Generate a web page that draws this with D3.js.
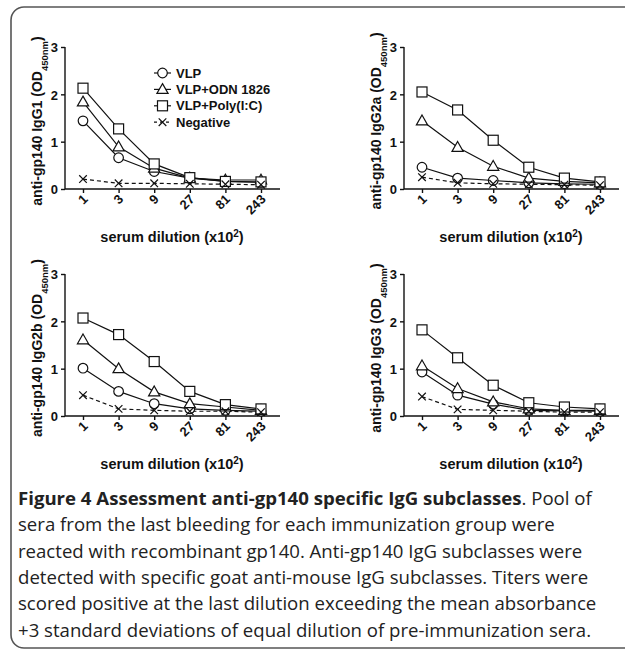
<!DOCTYPE html>
<html lang="en">
<head>
	<meta charset="UTF-8">
	<script src="https://d3js.org/d3.v7.min.js"></script>
	<title>Figure 4</title>
	<style>
		body { margin: 0; background: white; }
		svg { display: block; }
		.tick-lbl, .ax-title, .leg { font-family: "Liberation Sans", Arial, sans-serif; font-weight: bold; fill: #111; }
		.caption { font-family: "Open Sans", sans-serif; fill: #222; }
	</style>
</head>
<body>
	<div id="chart"></div>
	<script>
		// ---------------- data ----------------
		const dilutions = ["1", "3", "9", "27", "81", "243"];
		const yTicks = [0, 1, 2, 3];
		const groups = ["VLP", "VLP+ODN 1826", "VLP+Poly(I:C)", "Negative"];
		const symbols = ["circle", "triangle", "square", "cross"];

		const igg1 = [
			[1.44, 0.66, 0.37, 0.23, 0.16, 0.14],
			[1.84, 0.89, 0.44, 0.23, 0.19, 0.19],
			[2.13, 1.27, 0.53, 0.24, 0.16, 0.15],
			[0.21, 0.12, 0.12, 0.11, 0.10, 0.09]
		];
		const igg2a = [
			[0.46, 0.23, 0.18, 0.13, 0.11, 0.10],
			[1.44, 0.88, 0.48, 0.23, 0.16, 0.13],
			[2.05, 1.67, 1.03, 0.46, 0.23, 0.15],
			[0.25, 0.13, 0.11, 0.10, 0.09, 0.08]
		];
		const igg2b = [
			[1.01, 0.52, 0.26, 0.15, 0.12, 0.10],
			[1.61, 1.00, 0.51, 0.26, 0.19, 0.12],
			[2.07, 1.72, 1.15, 0.52, 0.24, 0.15],
			[0.44, 0.15, 0.12, 0.10, 0.10, 0.08]
		];
		const igg3 = [
			[0.93, 0.44, 0.25, 0.12, 0.11, 0.10],
			[1.06, 0.58, 0.30, 0.15, 0.12, 0.12],
			[1.82, 1.23, 0.65, 0.28, 0.19, 0.15],
			[0.41, 0.14, 0.12, 0.10, 0.08, 0.08]
		];

		const panels = [
			{ name: "IgG1", values: igg1, x: 65, y: 189, legend: true },
			{ name: "IgG2a", values: igg2a, x: 404, y: 189, legend: false },
			{ name: "IgG2b", values: igg2b, x: 65, y: 416, legend: false },
			{ name: "IgG3", values: igg3, x: 404, y: 416, legend: false }
		];

		const captionLines = [
			[["Figure 4 Assessment anti-gp140 specific IgG subclasses", true], [". Pool of", false]],
			[["sera from the last bleeding for each immunization group were", false]],
			[["reacted with recombinant gp140. Anti-gp140 IgG subclasses were", false]],
			[["detected with specific goat anti-mouse IgG subclasses. Titers were", false]],
			[["scored positive at the last dilution exceeding the mean absorbance", false]],
			[["+3 standard deviations of equal dilution of pre-immunization sera.", false]]
		];

		// ---------------- svg ----------------
		const W = 625, H = 651;
		const svg = d3.select("#chart").append("svg")
			.attr("width", W)
			.attr("height", H);

		// frame with rounded corners (right side runs off the picture)
		svg.append("rect")
			.attr("x", 11).attr("y", 7)
			.attr("width", 640).attr("height", 641)
			.attr("rx", 13)
			.attr("fill", "none")
			.attr("stroke", "#555")
			.attr("stroke-width", 1.6);

		const x = d3.scalePoint().domain(dilutions).range([18, 196]);
		const y = d3.scaleLinear().domain([0, 3]).range([0, -142]);

		function drawMarker(g, type, cx, cy) {
			if (type === "circle") {
				g.append("circle").attr("cx", cx).attr("cy", cy).attr("r", 4.8)
					.attr("fill", "white").attr("stroke", "#111").attr("stroke-width", 1.2);
			} else if (type === "triangle") {
				g.append("path")
					.attr("d", `M${cx},${cy - 5.8}L${cx + 5.6},${cy + 4}L${cx - 5.6},${cy + 4}Z`)
					.attr("fill", "white").attr("stroke", "#111").attr("stroke-width", 1.2);
			} else if (type === "square") {
				g.append("rect").attr("x", cx - 5).attr("y", cy - 5).attr("width", 10).attr("height", 10)
					.attr("fill", "white").attr("stroke", "#111").attr("stroke-width", 1.2);
			} else {
				g.append("path")
					.attr("d", `M${cx - 3.8},${cy - 3.8}L${cx + 3.8},${cy + 3.8}M${cx - 3.8},${cy + 3.8}L${cx + 3.8},${cy - 3.8}`)
					.attr("stroke", "#111").attr("stroke-width", 1.2);
			}
		}

		panels.forEach(p => {
			const g = svg.append("g").attr("transform", `translate(${p.x},${p.y})`);

			// y axis
			const yAxis = d3.axisLeft(y).tickValues(yTicks).tickSize(4).tickFormat(d3.format("d"));
			const ya = g.append("g").call(yAxis);
			ya.select(".domain").attr("d", `M0,${y(3)}V0`).attr("stroke", "#111").attr("stroke-width", 1.4);
			ya.selectAll(".tick line").attr("stroke", "#111").attr("stroke-width", 1.4);
			ya.selectAll(".tick text").attr("class", "tick-lbl").attr("x", -7).attr("dy", "0.36em")
				.style("font-size", "13px");

			// x axis
			const xAxis = d3.axisBottom(x).tickSize(4);
			const xa = g.append("g").call(xAxis);
			xa.select(".domain").attr("d", "M0,0H215").attr("stroke", "#111").attr("stroke-width", 1.6);
			xa.selectAll(".tick line").attr("stroke", "#111").attr("stroke-width", 1.4);
			xa.selectAll(".tick text").attr("class", "tick-lbl")
				.attr("y", 0).attr("dy", 0)
				.attr("text-anchor", "end")
				.attr("transform", "translate(5,11) rotate(-45)")
				.style("font-size", "13px");

			// x title
			const xt = g.append("text").attr("class", "ax-title")
				.attr("x", 107).attr("y", 53)
				.attr("text-anchor", "middle")
				.style("font-size", "14.5px");
			xt.append("tspan").text("serum dilution (x10");
			xt.append("tspan").attr("baseline-shift", "super").style("font-size", "10px").text("2");
			xt.append("tspan").text(")");

			// y title
			const yt = g.append("text").attr("class", "ax-title")
				.attr("transform", `translate(-23,${y(1.5) + 3}) rotate(-90)`)
				.attr("text-anchor", "middle")
				.style("font-size", "14px");
			yt.append("tspan").text(`anti-gp140 ${p.name} (OD`);
			yt.append("tspan").attr("baseline-shift", "sub").style("font-size", "9.5px").text("450nm");
			yt.append("tspan").text(")");

			// lines
			const line = d3.line()
				.x((d, i) => x(dilutions[i]))
				.y(d => y(d));

			p.values.forEach((vals, si) => {
				g.append("path")
					.datum(vals)
					.attr("d", line)
					.attr("fill", "none")
					.attr("stroke", "#111")
					.attr("stroke-width", 1.2)
					.attr("stroke-dasharray", si === 3 ? "4,3" : null);
			});
			p.values.forEach((vals, si) => {
				vals.forEach((v, i) => drawMarker(g, symbols[si], x(dilutions[i]), y(v)));
			});

			// legend
			if (p.legend) {
				groups.forEach((name, i) => {
					const ly = 73 - p.y + i * 16.4;
					const lg = g.append("g");
					lg.append("line")
						.attr("x1", 89).attr("x2", 106)
						.attr("y1", ly).attr("y2", ly)
						.attr("stroke", "#111").attr("stroke-width", 1.2)
						.attr("stroke-dasharray", i === 3 ? "3,3" : null);
					drawMarker(lg, symbols[i], 97.5, ly);
					lg.append("text").attr("class", "leg")
						.attr("x", 111).attr("y", ly).attr("dy", "0.36em")
						.style("font-size", "13px")
						.text(name);
				});
			}
		});

		// caption
		captionLines.forEach((parts, i) => {
			const t = svg.append("text").attr("class", "caption")
				.attr("x", 18).attr("y", 505 + i * 26.3)
				.style("font-size", "18.6px");
			parts.forEach(([s, bold]) => {
				t.append("tspan").attr("font-weight", bold ? "bold" : "normal").text(s);
			});
		});
	</script>
</body>
</html>
